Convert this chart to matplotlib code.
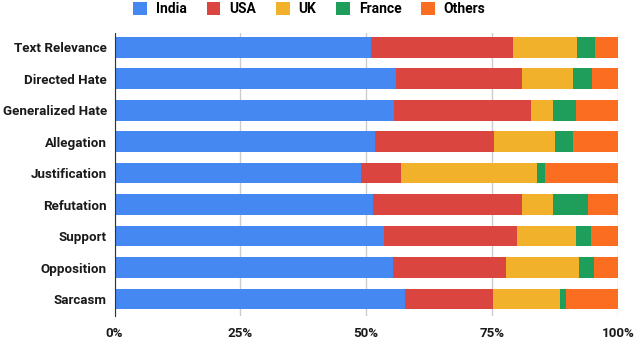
import numpy as np
import matplotlib.pyplot as plt
from matplotlib.ticker import FuncFormatter

plt.rcParams['font.family'] = ['Roboto', 'DejaVu Sans']

# categories (top to bottom) and share per country, in percent
categories = ['Text Relevance', 'Directed Hate', 'Generalized Hate', 'Allegation',
              'Justification', 'Refutation', 'Support', 'Opposition', 'Sarcasm']
india = [51.0, 55.9, 55.5, 51.8, 49.0, 51.4, 53.5, 55.4, 57.8]
usa = [28.1, 25.0, 27.2, 23.5, 8.0, 29.6, 26.4, 22.4, 17.3]
uk = [12.7, 10.2, 4.5, 12.2, 27.0, 6.2, 11.7, 14.5, 13.3]
france = [3.7, 3.7, 4.5, 3.6, 1.5, 6.8, 3.0, 3.0, 1.2]
others = [4.5, 5.2, 8.3, 8.9, 14.5, 6.0, 5.4, 4.7, 10.4]

series = ['India', 'USA', 'UK', 'France', 'Others']
colors = ['#4688F1', '#DB4540', '#F2B12B', '#1E9D5B', '#FB6E22']

data = np.array([india, usa, uk, france, others])
data = data / data.sum(axis=0) * 100

fig = plt.figure(figsize=(6.34, 3.42), dpi=100)
ax = fig.add_axes([0.1806, 0.0751, 0.794, 0.8284])

y = np.arange(len(categories))
left = np.zeros(len(categories))
for vals, name, c in zip(data, series, colors):
    ax.barh(y, vals, left=left, height=0.66, color=c, label=name, zorder=3)
    left += vals

ax.set_ylim(len(categories) - 0.45, -0.45)
ax.set_xlim(0, 100)
ax.set_xticks([0, 25, 50, 75, 100])
ax.xaxis.set_major_formatter(FuncFormatter(lambda v, p: '%d%%' % v))
ax.set_yticks(y)
ax.set_yticklabels(categories)
ax.tick_params(axis='both', length=0, labelsize=9.6)
ax.tick_params(axis='y', pad=5.5)
ax.tick_params(axis='x', pad=8)
for lab in ax.get_xticklabels() + ax.get_yticklabels():
    lab.set_fontweight('bold')
    lab.set_color('#1a1a1a')

ax.grid(axis='x', color='#cccccc', linewidth=1, zorder=0)
for s in ['top', 'right', 'bottom']:
    ax.spines[s].set_visible(False)
ax.spines['left'].set_color('#333333')
ax.spines['left'].set_zorder(4)

fig.legend(loc='upper center', bbox_to_anchor=(0.488, 1.03), ncol=5, frameon=False,
           handlelength=1.0, handleheight=1.0, handletextpad=0.65, columnspacing=1.4,
           prop={'size': 10, 'weight': 'bold'})

plt.savefig('out.png', dpi=100)
